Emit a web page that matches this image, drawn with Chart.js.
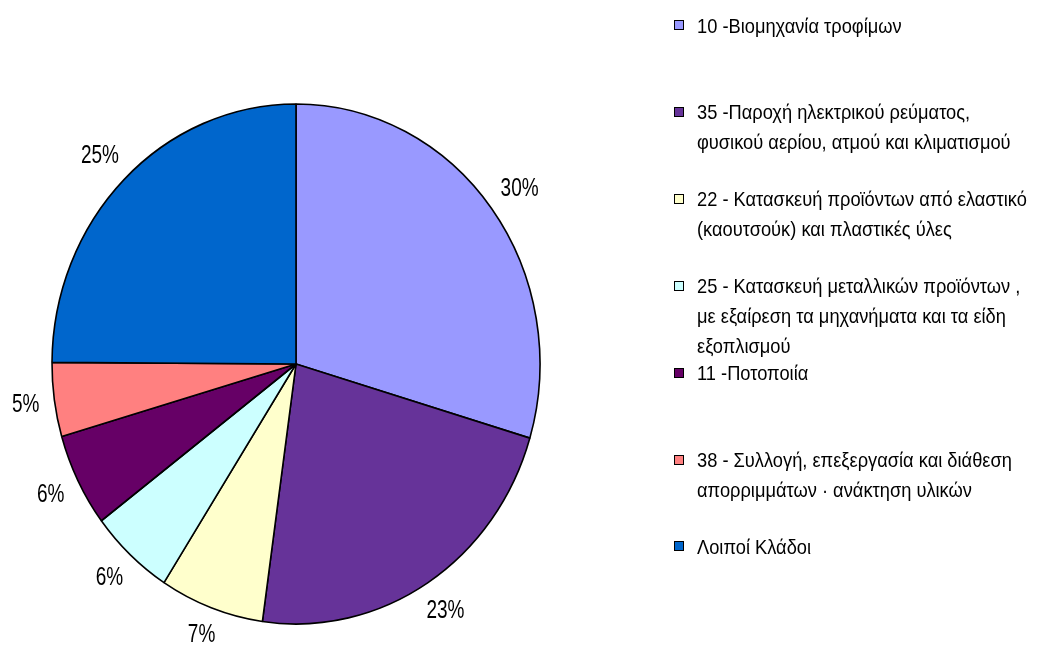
<!DOCTYPE html>
<html>
<head>
<meta charset="utf-8">
<script src="https://cdn.jsdelivr.net/npm/chart.js@4"></script>
<style>
    body { margin: 0; background: #fff; }
    #wrap { position: relative; width: 1038px; height: 645px; overflow: hidden; }
    #pieChart { position: absolute; left: 0; top: 0; }
    .legend-item { position: absolute; left: 674px; }
    .legend-box { position: absolute; left: 0; width: 8px; height: 8px; border: 1.5px solid #000; }
    .legend-text {
        position: absolute; left: 23px; top: 0;
        font-family: 'Liberation Sans', Arial, sans-serif; font-size: 21px; line-height: 30px;
        color: #000; white-space: nowrap;
        transform: scaleX(0.87); transform-origin: left top;
    }
</style>
</head>
<body>
<div id="wrap">
    <canvas id="pieChart" width="1038" height="645"></canvas>
    <div id="legend"></div>
</div>
<script>
// slice data, clockwise from 12 o'clock
const categories = [
    ['10 -Βιομηχανία τροφίμων'],
    ['35 -Παροχή ηλεκτρικού ρεύματος,', 'φυσικού αερίου, ατμού και κλιματισμού'],
    ['22 - Κατασκευή προϊόντων  από ελαστικό', '(καουτσούκ) και πλαστικές ύλες'],
    ['25 - Κατασκευή μεταλλικών  προϊόντων ,', 'με εξαίρεση τα μηχανήματα και τα είδη', 'εξοπλισμού'],
    ['11 -Ποτοποιία'],
    ['38 - Συλλογή, επεξεργασία και διάθεση', 'απορριμμάτων · ανάκτηση υλικών'],
    ['Λοιποί Κλάδοι']
];
const shares = [29.6, 22.6, 6.9, 5.6, 5.8, 4.6, 24.9];
const sliceColors = ['#9999FF', '#663399', '#FFFFCC', '#CCFFFF', '#660066', '#FF8080', '#0066CC'];

const squash = 260 / 244; // the original pie is a bit taller than wide

const ellipsePlugin = {
    id: 'ellipse',
    beforeDatasetsDraw(chart) {
        const arc = chart.getDatasetMeta(0).data[0];
        const ctx = chart.ctx;
        ctx.save();
        ctx.translate(arc.x, arc.y);
        ctx.scale(1, squash);
        ctx.translate(-arc.x, -arc.y);
    },
    afterDatasetsDraw(chart) {
        const ctx = chart.ctx;
        ctx.restore();

        // percentage labels just outside the rim, placed by their box
        const total = shares.reduce((a, b) => a + b, 0);
        const meta = chart.getDatasetMeta(0);
        const textH = 19, gap = 14, narrow = 0.76;
        ctx.save();
        ctx.fillStyle = '#000';
        ctx.font = '25px "Liberation Sans", Arial, sans-serif';
        ctx.textAlign = 'center';
        ctx.textBaseline = 'middle';
        meta.data.forEach((arc, i) => {
            const txt = Math.round(shares[i] / total * 100) + '%';
            const w = ctx.measureText(txt).width * narrow;
            const mid = (arc.startAngle + arc.endAngle) / 2;
            const c = Math.cos(mid), s = Math.sin(mid);
            const ex = arc.x + c * arc.outerRadius;
            const ey = arc.y + s * arc.outerRadius * squash;
            const push = gap + Math.abs(c) * w / 2 + Math.abs(s) * textH / 2;
            ctx.save();
            ctx.translate(ex + c * push, ey + s * push);
            ctx.scale(narrow, 1);
            ctx.fillText(txt, 0, 1);
            ctx.restore();
        });
        ctx.restore();
    }
};

new Chart(document.getElementById('pieChart'), {
    type: 'pie',
    data: {
        labels: categories.map(c => c.join(' ')),
        datasets: [{
            data: shares,
            backgroundColor: sliceColors,
            borderColor: '#000',
            borderWidth: 1.6,
            clip: false
        }]
    },
    options: {
        responsive: false,
        animation: false,
        radius: 244,
        layout: { padding: { top: 83, right: 446, left: 0, bottom: 0 } },
        plugins: {
            legend: { display: false },
            tooltip: { enabled: false }
        }
    },
    plugins: [ellipsePlugin]
});

// legend on the right, one item every ~87px
const legendDiv = document.getElementById('legend');
categories.forEach((lines, i) => {
    const centerY = 25.5 + i * 86.9;
    const item = document.createElement('div');
    item.className = 'legend-item';
    item.style.top = (centerY - 15) + 'px';

    const box = document.createElement('div');
    box.className = 'legend-box';
    box.style.top = '9.5px';
    box.style.background = sliceColors[i];
    item.appendChild(box);

    const text = document.createElement('div');
    text.className = 'legend-text';
    text.innerHTML = lines.join('<br>');
    item.appendChild(text);

    legendDiv.appendChild(item);
});
</script>
</body>
</html>
